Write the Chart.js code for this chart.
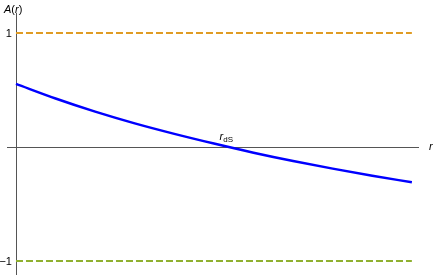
<!DOCTYPE html>
<html>
<head>
<meta charset="utf-8">
<script src="https://cdn.jsdelivr.net/npm/chart.js@4/dist/chart.umd.min.js"></script>
<style>
  html, body { margin: 0; padding: 0; background: #fff; }
  #chart { display: block; }
</style>
</head>
<body>
<canvas id="chart" width="436" height="275"></canvas>
<script>
// curve samples
const rValues = [0, 1, 2, 3, 4, 5, 6, 7, 8, 9, 10];
const aValues = [0.553, 0.425, 0.31, 0.207, 0.115, 0.03, -0.05, -0.123, -0.19, -0.252, -0.31];

// horizontal reference lines
const upperLine = [1, 1];
const lowerLine = [-1, -1];
const lineRange = [0, 10];

const yTicks = [1, -1];
const yTickLabels = ['1', '\u22121'];
const rdS = 5.37;

const axisColor = '#555555';
const font = '11px "Liberation Sans", Arial, sans-serif';

const axesPlugin = {
  id: 'centerAxes',
  beforeDatasetsDraw(chart) {
    const ctx = chart.ctx;
    const {left, right, top, bottom} = chart.chartArea;
    const x0 = chart.scales.x.getPixelForValue(0);
    const y0 = chart.scales.y.getPixelForValue(0);
    ctx.save();
    ctx.strokeStyle = axisColor;
    ctx.lineWidth = 1;
    ctx.beginPath();
    ctx.moveTo(left, Math.round(y0) + 0.5);
    ctx.lineTo(right, Math.round(y0) + 0.5);
    ctx.moveTo(Math.round(x0) + 0.5, top);
    ctx.lineTo(Math.round(x0) + 0.5, bottom);
    ctx.stroke();

    ctx.fillStyle = '#000';
    ctx.font = font;
    ctx.textAlign = 'right';
    ctx.textBaseline = 'middle';
    yTicks.forEach((v, i) => {
      const py = Math.round(chart.scales.y.getPixelForValue(v)) + 0.5;
      ctx.beginPath();
      ctx.moveTo(x0, py);
      ctx.lineTo(x0 + 5, py);
      ctx.stroke();
      ctx.fillText(yTickLabels[i], x0 - 4, py);
    });
    ctx.restore();
  },
  afterDatasetsDraw(chart) {
    const ctx = chart.ctx;
    const x0 = chart.scales.x.getPixelForValue(0);
    const y0 = chart.scales.y.getPixelForValue(0);
    const {right, top} = chart.chartArea;
    ctx.save();
    ctx.fillStyle = '#000';
    ctx.textBaseline = 'alphabetic';
    ctx.textAlign = 'left';

    // axis labels
    ctx.font = 'italic ' + font;
    ctx.fillText('A', x0 - 12, top);
    let w = ctx.measureText('A').width;
    ctx.font = font;
    ctx.fillText('(', x0 - 12 + w, top);
    w += ctx.measureText('(').width;
    ctx.font = 'italic ' + font;
    ctx.fillText('r', x0 - 12 + w, top);
    w += ctx.measureText('r').width;
    ctx.font = font;
    ctx.fillText(')', x0 - 12 + w, top);

    ctx.font = 'italic ' + font;
    ctx.fillText('r', right + 10, y0 + 3);

    // r_dS marker label
    const px = chart.scales.x.getPixelForValue(rdS);
    ctx.font = 'italic ' + font;
    ctx.fillText('r', px - 9, y0 - 7);
    const rw = ctx.measureText('r').width;
    ctx.font = '8px "Liberation Sans", Arial, sans-serif';
    ctx.fillText('dS', px - 9 + rw, y0 - 5);
    ctx.restore();
  }
};

new Chart(document.getElementById('chart'), {
  type: 'line',
  data: {
    datasets: [{
      data: rValues.map((r, i) => ({x: r, y: aValues[i]})),
      borderColor: '#0000ff',
      borderWidth: 2.5,
      pointRadius: 0,
      cubicInterpolationMode: 'monotone',
      fill: false
    }, {
      data: lineRange.map((r, i) => ({x: r, y: upperLine[i]})),
      borderColor: '#e09c24',
      borderWidth: 2,
      borderDash: [7, 3],
      pointRadius: 0,
      fill: false
    }, {
      data: lineRange.map((r, i) => ({x: r, y: lowerLine[i]})),
      borderColor: '#8fb030',
      borderWidth: 2,
      borderDash: [7, 3],
      pointRadius: 0,
      fill: false
    }]
  },
  options: {
    responsive: false,
    animation: false,
    layout: {
      padding: {left: 7, right: 17, top: 13, bottom: 0}
    },
    scales: {
      x: {type: 'linear', display: false, min: -0.227, max: 10.18},
      y: {type: 'linear', display: false, min: -1.123, max: 1.175}
    },
    plugins: {
      legend: {display: false},
      tooltip: {enabled: false}
    }
  },
  plugins: [axesPlugin]
});
</script>
</body>
</html>
